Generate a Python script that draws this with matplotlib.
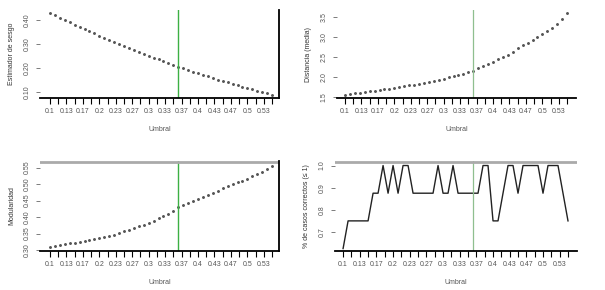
import matplotlib
matplotlib.use("Agg")
import matplotlib.pyplot as plt
import numpy as np

plt.rcParams['font.family'] = ['Liberation Sans', 'DejaVu Sans']

# umbral 0.10 .. 0.55 (46 puntos)
umbral = [0.10, 0.11, 0.12, 0.13, 0.14, 0.15, 0.16, 0.17, 0.18, 0.19,
          0.20, 0.21, 0.22, 0.23, 0.24, 0.25, 0.26, 0.27, 0.28, 0.29,
          0.30, 0.31, 0.32, 0.33, 0.34, 0.35, 0.36, 0.37, 0.38, 0.39,
          0.40, 0.41, 0.42, 0.43, 0.44, 0.45, 0.46, 0.47, 0.48, 0.49,
          0.50, 0.51, 0.52, 0.53, 0.54, 0.55]

sesgo = [0.430, 0.420, 0.410, 0.400, 0.391, 0.381, 0.372, 0.363, 0.354, 0.345,
         0.336, 0.327, 0.318, 0.310, 0.301, 0.293, 0.284, 0.276, 0.268, 0.260,
         0.252, 0.244, 0.236, 0.228, 0.221, 0.213, 0.206, 0.199, 0.192, 0.185,
         0.178, 0.172, 0.165, 0.159, 0.152, 0.146, 0.140, 0.134, 0.128, 0.122,
         0.116, 0.111, 0.105, 0.100, 0.094, 0.089]

distancia = [1.55, 1.57, 1.59, 1.61, 1.62, 1.64, 1.66, 1.67, 1.69, 1.71,
             1.73, 1.75, 1.77, 1.79, 1.81, 1.83, 1.85, 1.88, 1.90, 1.93,
             1.96, 1.99, 2.02, 2.05, 2.08, 2.12, 2.16, 2.22, 2.28, 2.33,
             2.38, 2.44, 2.50, 2.56, 2.63, 2.72, 2.79, 2.86, 2.93, 3.00,
             3.08, 3.15, 3.24, 3.33, 3.45, 3.60]

modularidad = [0.310, 0.312, 0.315, 0.317, 0.320, 0.322, 0.325, 0.327, 0.330, 0.332,
               0.335, 0.339, 0.343, 0.347, 0.352, 0.357, 0.362, 0.367, 0.372, 0.377,
               0.383, 0.389, 0.396, 0.403, 0.410, 0.418, 0.430, 0.437, 0.443, 0.449,
               0.455, 0.462, 0.468, 0.474, 0.480, 0.487, 0.493, 0.499, 0.505, 0.511,
               0.517, 0.524, 0.530, 0.537, 0.545, 0.556]

aciertos = [0.625, 0.75, 0.75, 0.75, 0.75, 0.75, 0.875, 0.875, 1.0, 0.875,
            1.0, 0.875, 1.0, 1.0, 0.875, 0.875, 0.875, 0.875, 0.875, 1.0,
            0.875, 0.875, 1.0, 0.875, 0.875, 0.875, 0.875, 0.875, 1.0, 1.0,
            0.75, 0.75, 0.875, 1.0, 1.0, 0.875, 1.0, 1.0, 1.0, 1.0,
            0.875, 1.0, 1.0, 1.0, 0.875, 0.75]

umbral_opt = 0.36

xticks = [0.1 + k / 30 for k in range(14)]
xlabels = ['0.1', '0.13', '0.17', '0.2', '0.23', '0.27', '0.3', '0.33',
           '0.37', '0.4', '0.43', '0.47', '0.5', '0.53']
xminor = [0.1 + (2 * k + 1) / 60 for k in range(14)]

fs = 5


def estilo(ax, xlim, ylim, yticks, ylabels, ylab, right=False):
    ax.set_xlim(*xlim)
    ax.set_ylim(*ylim)
    for s in ['top', 'left', 'right']:
        ax.spines[s].set_visible(False)
    ax.spines['bottom'].set_linewidth(1.3)
    if right:
        ax.spines['right'].set_visible(True)
        ax.spines['right'].set_linewidth(1.3)
    ax.set_xticks(xticks)
    ax.set_xticklabels(xlabels, fontsize=fs, color='#555')
    ax.set_xticks(xminor, minor=True)
    ax.tick_params(axis='x', which='both', length=4, width=0.8, pad=3)
    ax.set_yticks(yticks)
    ax.set_yticklabels(ylabels, fontsize=fs, rotation=90, va='center', color='#555')
    ax.tick_params(axis='y', length=3, width=0.6, pad=4, color='#666')
    ax.set_xlabel('Umbral', fontsize=fs, color='#555', labelpad=8)
    ax.set_ylabel(ylab, fontsize=fs, color='#333', labelpad=6)


fig = plt.figure(figsize=(6.05, 2.9), dpi=100)

ax1 = fig.add_axes([0.0661, 0.662, 0.395, 0.303])
ax1.plot(umbral, sesgo, 'o', ms=1.1, color='#555')
ax1.axvline(umbral_opt, color='#3cb043', lw=1)
estilo(ax1, (0.0797, 0.564), (0.075, 0.442), [0.1, 0.2, 0.3, 0.4],
       ['0.10', '0.20', '0.30', '0.40'], 'Estimador de sesgo', right=True)

ax2 = fig.add_axes([0.557, 0.662, 0.395, 0.303])
ax2.plot(umbral, distancia, 'o', ms=1.1, color='#555')
ax2.axvline(umbral_opt, color='#8fbf8f', lw=0.9)
estilo(ax2, (0.0838, 0.568), (1.475, 3.675), [1.5, 2.0, 2.5, 3.0, 3.5],
       ['1.5', '2.0', '2.5', '3.0', '3.5'], 'Distancia (media)')

ax3 = fig.add_axes([0.0661, 0.1345, 0.395, 0.310])
ax3.plot(umbral, modularidad, 'o', ms=1.1, color='#555')
ax3.axvline(umbral_opt, color='#3cb043', lw=1)
ax3.axhline(0.568, color='#aaaaaa', lw=2)
estilo(ax3, (0.0797, 0.564), (0.297, 0.570), [0.30, 0.35, 0.40, 0.45, 0.50, 0.55],
       ['0.30', '0.35', '0.40', '0.45', '0.50', '0.55'], 'Modularidad', right=True)

ax4 = fig.add_axes([0.5537, 0.1345, 0.40, 0.310])
ax4.plot(umbral, aciertos, '-', lw=1, color='#222')
ax4.axvline(umbral_opt, color='#8fbf8f', lw=0.9)
ax4.axhline(1.018, color='#aaaaaa', lw=2)
estilo(ax4, (0.0838, 0.568), (0.614, 1.020), [0.7, 0.8, 0.9, 1.0],
       ['0.7', '0.8', '0.9', '1.0'], '% de casos correctos (≤ 1)')

fig.savefig('out.png', dpi=100)
